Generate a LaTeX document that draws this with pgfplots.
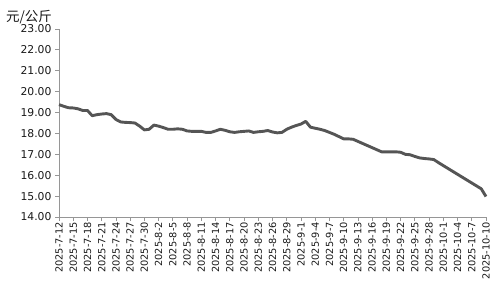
\documentclass[border=0pt]{standalone}
\usepackage{pgfplots}
\pgfplotsset{compat=1.18}
\usepackage{fontspec}
\setmainfont{DejaVu Sans}
\newfontfamily\cjk{Noto Sans CJK SC}
\definecolor{linec}{RGB}{85,85,85}
\definecolor{axc}{RGB}{150,150,150}
\definecolor{txt}{RGB}{25,25,25}
\begin{document}
\begin{tikzpicture}[x=1pt,y=1pt]
\path[use as bounding box] (0,0) rectangle (500,300);
\node[font=\cjk\fontsize{13.5}{13.5}\selectfont, text=txt, inner sep=0pt] at (29,283) {元/公斤};
\begin{axis}[at={(59pt,83pt)}, anchor=south west, scale only axis,
  width=427pt, height=188pt,
  xmin=0, xmax=90, ymin=14, ymax=23,
  axis x line*=bottom, axis y line*=left,
  xtick={0,3,...,90},
  xticklabels={2025-7-12,2025-7-15,2025-7-18,2025-7-21,2025-7-24,2025-7-27,2025-7-30,2025-8-2,2025-8-5,2025-8-8,2025-8-11,2025-8-14,2025-8-17,2025-8-20,2025-8-23,2025-8-26,2025-8-29,2025-9-1,2025-9-4,2025-9-7,2025-9-10,2025-9-13,2025-9-16,2025-9-19,2025-9-22,2025-9-25,2025-9-28,2025-10-1,2025-10-4,2025-10-7,2025-10-10},
  x tick label style={rotate=90, anchor=east, font=\fontsize{9.8}{10}\selectfont, text=txt, inner sep=1pt},
  ytick={14,15,...,23},
  y tick label style={font=\fontsize{10.8}{11}\selectfont, text=txt, /pgf/number format/.cd, fixed, fixed zerofill, precision=2},
  /pgf/number format/assume math mode=true,
  tick align=outside, major tick length=4pt,
  axis line style={axc, line width=0.8pt}, tick style={axc, line width=0.8pt},
  xtick pos=bottom, ytick pos=left,
  clip=false,
]
\addplot[color=linec, line width=2.9pt, line join=round, no markers] coordinates {
(0,19.38)(1,19.30)(2,19.23)(3,19.22)(4,19.18)(5,19.10)(6,19.10)(7,18.85)(8,18.90)(9,18.93)
(10,18.95)(11,18.90)(12,18.67)(13,18.55)(14,18.53)(15,18.52)(16,18.50)(17,18.35)(18,18.17)(19,18.20)
(20,18.40)(21,18.35)(22,18.28)(23,18.20)(24,18.20)(25,18.22)(26,18.20)(27,18.12)(28,18.10)(29,18.10)
(30,18.10)(31,18.05)(32,18.05)(33,18.12)(34,18.20)(35,18.15)(36,18.08)(37,18.05)(38,18.08)(39,18.10)
(40,18.12)(41,18.05)(42,18.08)(43,18.10)(44,18.14)(45,18.07)(46,18.03)(47,18.05)(48,18.20)(49,18.30)
(50,18.38)(51,18.45)(52,18.58)(53,18.30)(54,18.25)(55,18.20)(56,18.14)(57,18.05)(58,17.96)(59,17.85)
(60,17.74)(61,17.74)(62,17.72)(64,17.52)(66,17.32)(68,17.12)(70,17.12)(71,17.12)(72,17.10)(73,17.00)
(74,16.98)(75,16.90)(76,16.83)(77,16.80)(78,16.78)(79,16.75)(80,16.60)(89,15.35)(90,14.98)
};
\end{axis}
\end{tikzpicture}
\end{document}
